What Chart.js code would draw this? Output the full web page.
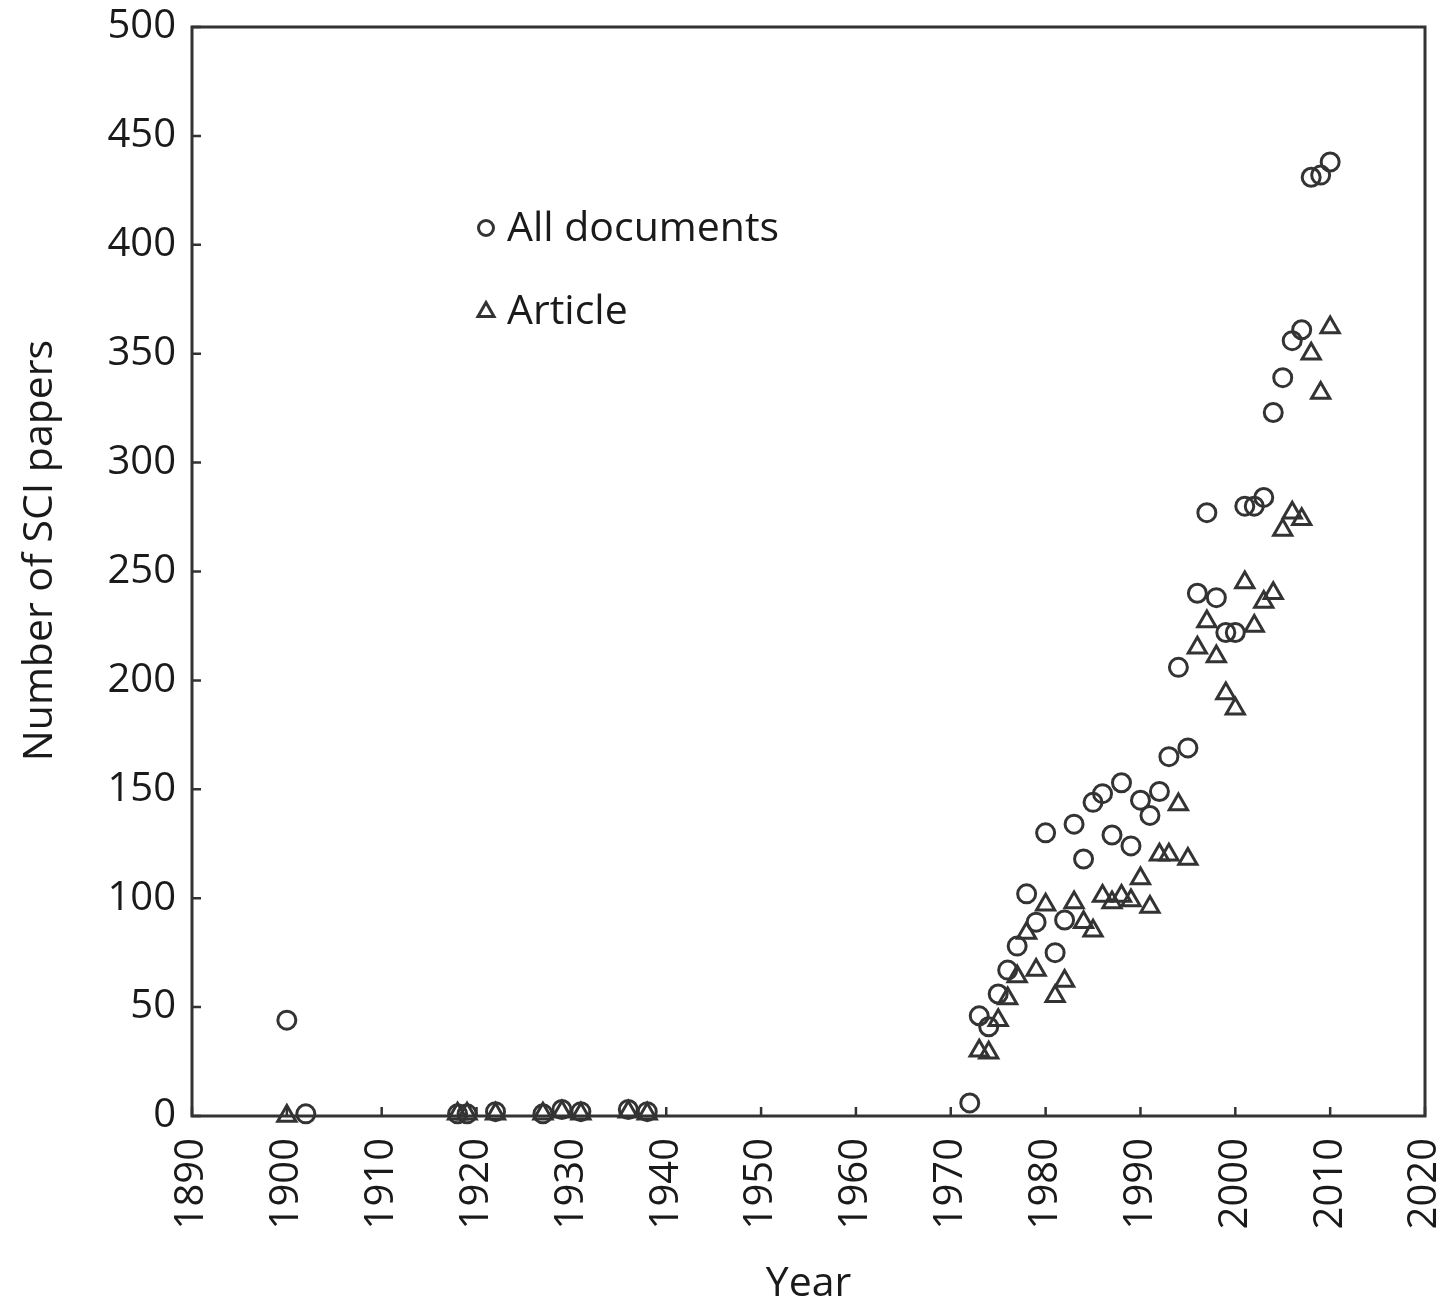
<!DOCTYPE html>
<html>
<head>
<meta charset="utf-8">
<script src="https://cdn.jsdelivr.net/npm/chart.js@4/dist/chart.umd.min.js"></script>
<style>
html,body{margin:0;padding:0;background:#fff;}
#wrap{width:1449px;height:1309px;}
</style>
</head>
<body>
<div id="wrap"><canvas id="c" width="1449" height="1309"></canvas></div>
<script>
const allYears = [1900,1902,1918,1919,1922,1927,1929,1931,1936,1938,1972,
  1973,1974,1975,1976,1977,1978,1979,1980,1981,1982,1983,1984,1985,1986,1987,1988,1989,
  1990,1991,1992,1993,1994,1995,1996,1997,1998,1999,2000,2001,2002,2003,2004,2005,2006,2007,2008,2009,2010];
const allValues = [44,1,1,1,2,1,3,2,3,2,6,
  46,41,56,67,78,102,89,130,75,90,134,118,144,148,129,153,124,
  145,138,149,165,206,169,240,277,238,222,222,280,280,284,323,339,356,361,431,432,438];
const articleYears = [1900,1918,1919,1922,1927,1929,1931,1936,1938,
  1973,1974,1975,1976,1977,1978,1979,1980,1981,1982,1983,1984,1985,1986,1987,1988,1989,
  1990,1991,1992,1993,1994,1995,1996,1997,1998,1999,2000,2001,2002,2003,2004,2005,2006,2007,2008,2009,2010];
const articleValues = [0,1,1,1,1,2,1,2,1,
  30,29,44,54,64,84,67,97,55,62,98,89,85,101,98,101,99,
  109,96,120,120,143,118,215,227,211,194,187,245,225,236,240,269,277,274,350,332,362];
const seriesNames = ["All documents","Article"];
const xTicks = [1890,1900,1910,1920,1930,1940,1950,1960,1970,1980,1990,2000,2010,2020];
const yTicks = [0,50,100,150,200,250,300,350,400,450,500];
const xTitle = 'Year';
const yTitle = 'Number of SCI papers';

const INK = '#333333';
const TXT = '#1a1a1a';
const FONT = '"Open Sans", "Noto Sans", sans-serif';

function pts(xs, ys){ return xs.map((x,i)=>({x:x, y:ys[i]})); }

const framePlugin = {
  id:'frame',
  afterDatasetsDraw(chart){
    const ctx = chart.ctx, a = chart.chartArea;
    const xs = chart.scales.x, ys = chart.scales.y;
    ctx.save();
    ctx.strokeStyle = INK;
    ctx.lineWidth = 3;
    ctx.strokeRect(a.left, a.top, a.right-a.left, a.bottom-a.top);
    ctx.lineWidth = 2.5;
    ctx.beginPath();
    xTicks.forEach(v=>{
      const px = xs.getPixelForValue(v);
      ctx.moveTo(px, a.bottom); ctx.lineTo(px, a.bottom-9);
    });
    yTicks.forEach(v=>{
      const py = ys.getPixelForValue(v);
      ctx.moveTo(a.left, py); ctx.lineTo(a.left+9, py);
    });
    ctx.stroke();
    // legend
    const lx = a.left + 294, ly1 = a.top + 201, ly2 = a.top + 284;
    ctx.lineWidth = 3;
    ctx.beginPath(); ctx.arc(lx, ly1, 7.5, 0, Math.PI*2); ctx.stroke();
    ctx.beginPath();
    ctx.moveTo(lx, ly2-8.5); ctx.lineTo(lx+8, ly2+5.5); ctx.lineTo(lx-8, ly2+5.5); ctx.closePath(); ctx.stroke();
    ctx.fillStyle = TXT;
    ctx.font = '41px ' + FONT;
    ctx.textBaseline = 'middle';
    ctx.textAlign = 'left';
    ctx.fillText(seriesNames[0], lx + 21, ly1 + 1);
    ctx.fillText(seriesNames[1], lx + 21, ly2 + 1);
    // y title
    ctx.save();
    ctx.translate(40, (a.top + a.bottom)/2 - 21);
    ctx.rotate(-Math.PI/2);
    ctx.textAlign = 'center';
    ctx.fillText(yTitle, 0, 0);
    ctx.restore();
    ctx.restore();
  }
};

new Chart(document.getElementById('c'), {
  type:'scatter',
  data:{
    datasets:[
      {label:seriesNames[0], data:pts(allYears, allValues), pointStyle:'circle',
       pointRadius:9, pointHoverRadius:9, borderColor:INK, backgroundColor:'rgba(0,0,0,0)', borderWidth:3, clip:false},
      {label:seriesNames[1], data:pts(articleYears, articleValues), pointStyle:'triangle',
       pointRadius:10.5, pointHoverRadius:10.5, borderColor:INK, backgroundColor:'rgba(0,0,0,0)', borderWidth:3, clip:false}
    ]
  },
  options:{
    responsive:false, animation:false, devicePixelRatio:1,
    layout:{padding:{left:0, top:27, right:24, bottom:0}},
    plugins:{legend:{display:false}, tooltip:{enabled:false}},
    scales:{
      x:{
        type:'linear', min:1890, max:2020,
        afterBuildTicks(s){ s.ticks = xTicks.map(v=>({value:v})); },
        afterFit(s){ s.height = 193; s.paddingLeft = 0; s.paddingRight = 0; },
        grid:{display:false, drawTicks:false}, border:{display:false},
        ticks:{color:TXT, font:{family:FONT, size:40}, padding:22, minRotation:90, maxRotation:90, autoSkip:false,
          callback:v=>String(v)},
        title:{display:true, text:xTitle, color:TXT, font:{family:FONT, size:41}, padding:{top:0,bottom:0}}
      },
      y:{
        type:'linear', min:0, max:500,
        afterBuildTicks(s){ s.ticks = yTicks.map(v=>({value:v})); },
        afterFit(s){ s.width = 192; s.paddingTop = 0; s.paddingBottom = 0; },
        grid:{display:false, drawTicks:false}, border:{display:false},
        ticks:{color:TXT, font:{family:FONT, size:40}, padding:16, callback:v=>String(v)},
        title:{display:false}
      }
    }
  },
  plugins:[framePlugin]
});
</script>
</body>
</html>
